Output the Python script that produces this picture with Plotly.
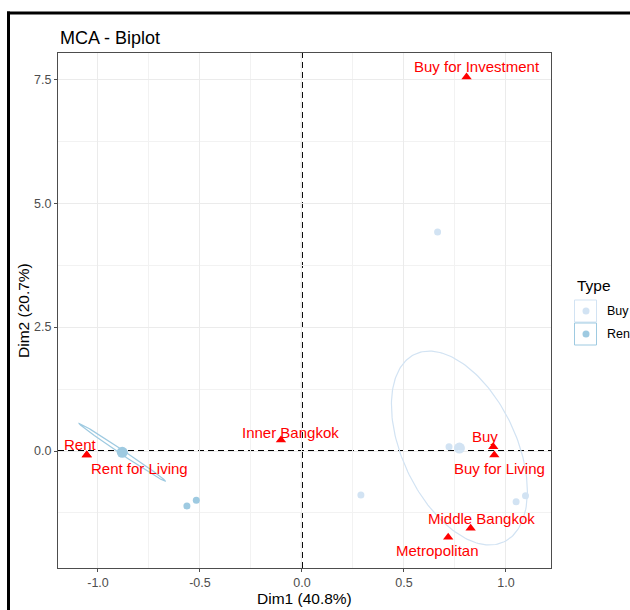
import numpy as np
import plotly.graph_objects as go

# ---------------- data ----------------
var_names = ["Buy for Investment", "Buy", "Buy for Living", "Inner Bangkok",
             "Rent", "Rent for Living", "Middle Bangkok", "Metropolitan"]
var_dim1 = [0.807, 0.938, 0.943, -0.103, -1.055, -1.055, 0.827, 0.717]
var_dim2 = [7.546, 0.087, -0.081, 0.222, -0.081, -0.081, -1.558, -1.740]

ind_type = ["Buy", "Buy", "Buy", "Buy", "Buy", "Rent", "Rent"]
ind_dim1 = [0.665, 0.721, 0.289, 1.050, 1.096, -0.564, -0.518]
ind_dim2 = [4.420, 0.087, -0.887, -1.022, -0.901, -1.109, -0.994]

groups = ["Buy", "Rent"]
group_mean_dim1 = [0.772, -0.881]
group_mean_dim2 = [0.060, -0.026]
buy_cov = [[0.1111, -0.2900], [-0.2900, 3.8245]]
rent_cov = [[0.04487, -0.12324], [-0.12324, 0.3410]]

x_tickvals = [-1.0, -0.5, 0.0, 0.5, 1.0]
x_ticktext = ["-1.0", "-0.5", "0.0", "0.5", "1.0"]
y_tickvals = [0.0, 2.5, 5.0, 7.5]
y_ticktext = ["0.0", "2.5", "5.0", "7.5"]

# ---------------- style ----------------
W, H = 630, 610
L, R, T, B = 58, 551, 53, 568
FONT = "Liberation Sans, Arial, sans-serif"
colors = {"Buy": "#d2e3f3", "Rent": "#9ecae1"}
# label offsets (px) for repelled labels: (xshift, yshift)
label_shift = [(10, 10), (-8, 10), (5, -13), (10, 8), (-6, 11), (53, -13), (11, 10), (-11, -13)]


def px(x):
    return (x - L) / (R - L)


def py(y):
    return (B - y) / (B - T)


fig = go.Figure()

# ellipses
covs = {"Buy": buy_cov, "Rent": rent_cov}
t = np.linspace(0, 2 * np.pi, 200)
for g, mx, my in zip(groups, group_mean_dim1, group_mean_dim2):
    Lc = np.linalg.cholesky(np.array(covs[g]))
    pts = Lc @ np.vstack([np.cos(t), np.sin(t)])
    fig.add_trace(go.Scatter(x=mx + pts[0], y=my + pts[1], mode="lines",
                             line=dict(color=colors[g], width=1.2),
                             hoverinfo="skip", showlegend=False))

# individuals
for g in groups:
    xs = [x for x, k in zip(ind_dim1, ind_type) if k == g]
    ys = [y for y, k in zip(ind_dim2, ind_type) if k == g]
    fig.add_trace(go.Scatter(x=xs, y=ys, mode="markers",
                             marker=dict(color=colors[g], size=7, line=dict(width=0)),
                             showlegend=False))

# group means
for g, mx, my in zip(groups, group_mean_dim1, group_mean_dim2):
    fig.add_trace(go.Scatter(x=[mx], y=[my], mode="markers",
                             marker=dict(color=colors[g], size=11, line=dict(width=0)),
                             showlegend=False))

# variable categories
fig.add_trace(go.Scatter(x=var_dim1, y=var_dim2, mode="markers",
                         marker=dict(symbol="triangle-up", color="#ff0000", size=9,
                                     line=dict(width=0)),
                         showlegend=False))

annotations = []
for name, x, y, (dx, dy) in zip(var_names, var_dim1, var_dim2, label_shift):
    annotations.append(dict(x=x, y=y, xref="x", yref="y", text=name, showarrow=False,
                            xshift=dx, yshift=dy, xanchor="center", yanchor="middle",
                            font=dict(family=FONT, size=15, color="#ff0000")))

# title and axis titles
annotations.append(dict(x=px(58), y=py(38), xref="paper", yref="paper", text="MCA - Biplot",
                        showarrow=False, xanchor="left", yanchor="middle",
                        font=dict(family=FONT, size=18, color="#000000")))
annotations.append(dict(x=px(304), y=py(598), xref="paper", yref="paper", text="Dim1 (40.8%)",
                        showarrow=False, xanchor="center", yanchor="middle",
                        font=dict(family=FONT, size=15.5, color="#000000")))
annotations.append(dict(x=px(23), y=py(311), xref="paper", yref="paper", text="Dim2 (20.7%)",
                        showarrow=False, xanchor="center", yanchor="middle", textangle=-90,
                        font=dict(family=FONT, size=15.5, color="#000000")))

# legend (manual)
annotations.append(dict(x=px(575), y=py(285), xref="paper", yref="paper", text="Type",
                        showarrow=False, xanchor="left", yanchor="middle",
                        font=dict(family=FONT, size=15.5, color="#000000")))
shapes = []
for i, g in enumerate(groups):
    top = 300 + i * 23
    shapes.append(dict(type="rect", xref="paper", yref="paper",
                       x0=px(574.5), x1=px(596.5), y0=py(top), y1=py(top + 22),
                       line=dict(color=colors[g], width=1), fillcolor="white"))
    cy = top + 11
    shapes.append(dict(type="circle", xref="paper", yref="paper",
                       x0=px(582.5), x1=px(589.5), y0=py(cy - 3.5), y1=py(cy + 3.5),
                       line=dict(width=0), fillcolor=colors[g]))
    annotations.append(dict(x=px(605), y=py(cy), xref="paper", yref="paper", text=g,
                            showarrow=False, xanchor="left", yanchor="middle",
                            font=dict(family=FONT, size=12.5, color="#000000")))

# dashed reference lines
shapes.append(dict(type="line", xref="x", yref="paper", x0=0, x1=0, y0=0, y1=1,
                   line=dict(color="black", width=2, dash="6px,4px"), layer="below"))
shapes.append(dict(type="line", xref="paper", yref="y", x0=0, x1=1, y0=0, y1=0,
                   line=dict(color="black", width=2, dash="6px,4px"), layer="below"))

# outer frame of the screenshot
shapes.append(dict(type="line", xref="paper", yref="paper", x0=px(8.5), x1=px(8.5),
                   y0=py(11.5), y1=py(640), line=dict(color="black", width=3)))
shapes.append(dict(type="line", xref="paper", yref="paper", x0=px(7), x1=px(660),
                   y0=py(13), y1=py(13), line=dict(color="black", width=3)))

axis_common = dict(showgrid=True, gridcolor="#ebebeb", gridwidth=1,
                   zeroline=False, showline=True, mirror=True, linecolor="#4d4d4d",
                   linewidth=1, ticks="outside", ticklen=3, tickcolor="#4d4d4d",
                   tickfont=dict(family=FONT, size=12.5, color="#4d4d4d"))

fig.update_layout(
    width=W, height=H, autosize=False,
    margin=dict(l=L, r=W - R, t=T, b=H - B, pad=0),
    paper_bgcolor="white", plot_bgcolor="white",
    xaxis=dict(range=[-1.196, 1.221], tickvals=x_tickvals, ticktext=x_ticktext,
               minor=dict(tickvals=[-0.75, -0.25, 0.25, 0.75], showgrid=True,
                          gridcolor="#f2f2f2", gridwidth=0.6, ticks=""),
               **axis_common),
    yaxis=dict(range=[-2.36, 8.03], tickvals=y_tickvals, ticktext=y_ticktext,
               minor=dict(tickvals=[-1.25, 1.25, 3.75, 6.25], showgrid=True,
                          gridcolor="#f2f2f2", gridwidth=0.6, ticks=""),
               **axis_common),
    showlegend=False,
    annotations=annotations,
    shapes=shapes,
)

fig.write_html("out.html")
